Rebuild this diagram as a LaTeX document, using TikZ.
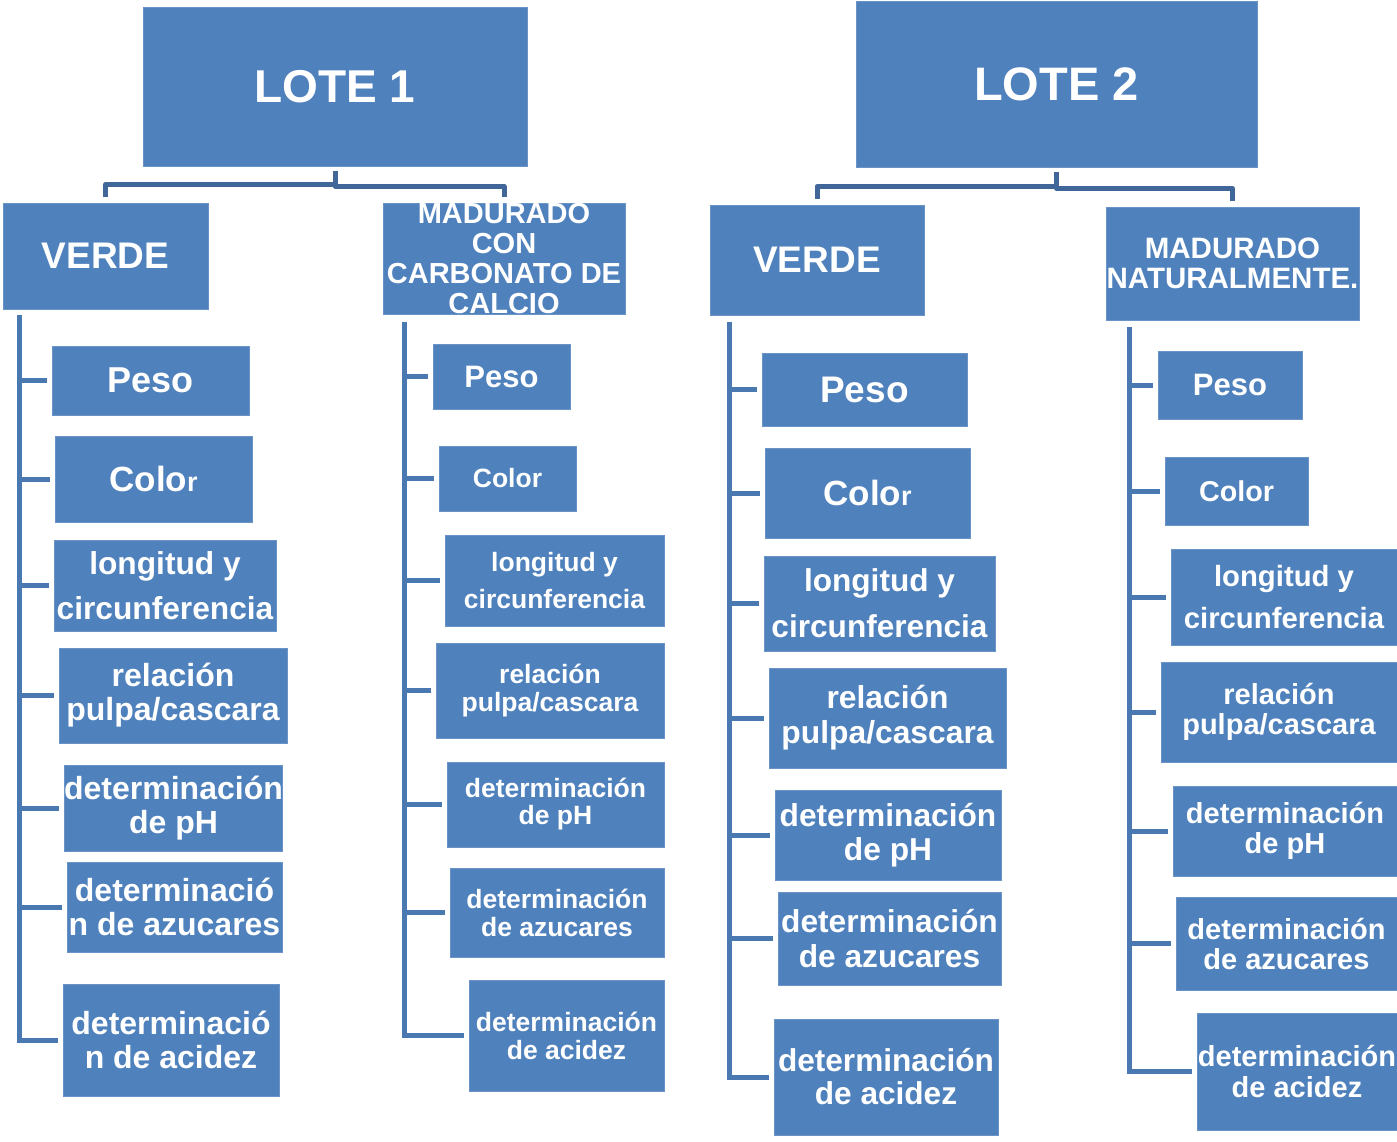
\documentclass[tikz,border=0pt]{standalone}
\usepackage{fontspec}
\setsansfont{Liberation Sans}
\usetikzlibrary{calc}
\definecolor{boxblue}{HTML}{4F81BD}
\definecolor{boxedge}{HTML}{6A94C8}
\definecolor{hubline}{HTML}{41679A}
\definecolor{sideline}{HTML}{4A78B0}
\tikzset{
  box/.style={fill=boxblue, draw=boxedge, line width=0.8pt, inner sep=0pt, text=white, align=center},
  sz/.style 2 args={font=\sffamily\bfseries\fontsize{#1}{#2}\selectfont},
  wh/.style 2 args={minimum width=#1, minimum height=#2},
  hub/.style={draw=hubline, line width=5pt, line join=round},
  side/.style={draw=sideline, line width=5pt, line join=miter}
}
\begin{document}
\begin{tikzpicture}[x=1pt, y=-1pt]
\useasboundingbox (0,0) rectangle (1397,1141);
% ---------- LOTE 1 ----------
\node[box, wh={384}{159}, sz={46}{50}] (lote1) at (335,86.5) {LOTE 1};
\node[box, wh={205}{106}, sz={37}{40}] (v1) at (105.5,256) {VERDE};
\node[box, wh={242}{108}, sz={29}{30}] (m1) at (504,259) {MADURADO\\CON\\CARBONATO DE\\CALCIO};
\node[box, wh={197}{69}, sz={36}{40}] (a1) at (150.5,380.5) {Peso};
\node[box, wh={197}{86}, sz={35}{40}] (a2) at (153.5,479) {Colo{\fontsize{27}{30}\selectfont r}};
\node[box, wh={222}{91}, sz={31.7}{45}] (a3) at (165,585.5) {longitud y\\circunferencia};
\node[box, wh={228}{95}, sz={32}{34}] (a4) at (173,695.5) {relación\\pulpa/cascara};
\node[box, wh={217}{86}, sz={32}{34}] (a5) at (173.5,808) {determinación\\de pH};
\node[box, wh={215}{90}, sz={32}{34}] (a6) at (174.5,907) {determinació\\n de azucares};
\node[box, wh={216}{112}, sz={32}{34}] (a7) at (171,1040) {determinació\\n de acidez};
\node[box, wh={137}{65}, sz={31}{34}] (b1) at (501.5,376.5) {Peso};
\node[box, wh={137}{65}, sz={26.5}{30}] (b2) at (507.5,478.5) {Color};
\node[box, wh={219}{91}, sz={26.5}{37}] (b3) at (554.5,580.5) {longitud y\\circunferencia};
\node[box, wh={228}{95}, sz={26.5}{28}] (b4) at (550,690.5) {relación\\pulpa/cascara};
\node[box, wh={217}{85}, sz={26.5}{27}] (b5) at (555.5,804.5) {determinación\\de pH};
\node[box, wh={214}{89}, sz={26.5}{28}] (b6) at (557,912.5) {determinación\\de azucares};
\node[box, wh={195}{111}, sz={26.5}{28}] (b7) at (566.5,1035.5) {determinación\\de acidez};
% ---------- LOTE 2 ----------
\node[box, wh={401}{166}, sz={47}{50}] (lote2) at (1056.5,84) {LOTE 2};
\node[box, wh={214}{110}, sz={37}{40}] (v2) at (817,260) {VERDE};
\node[box, wh={253}{113}, sz={29.5}{30}] (n2) at (1232.5,263.5) {MADURADO\\NATURALMENTE.};
\node[box, wh={205}{73}, sz={37}{40}] (c1) at (864.5,389.5) {Peso};
\node[box, wh={205}{90}, sz={35}{40}] (c2) at (867.5,493) {Colo{\fontsize{27}{30}\selectfont r}};
\node[box, wh={231}{95}, sz={31.6}{46}] (c3) at (879.5,603.5) {longitud y\\circunferencia};
\node[box, wh={237}{100}, sz={31.8}{35}] (c4) at (887.5,718) {relación\\pulpa/cascara};
\node[box, wh={226}{90}, sz={31.7}{34}] (c5) at (888,835) {determinación\\de pH};
\node[box, wh={223}{93}, sz={31.7}{35}] (c6) at (889.5,938.5) {determinación\\de azucares};
\node[box, wh={224}{116}, sz={31.6}{33}] (c7) at (886,1077) {determinación\\de acidez};
\node[box, wh={144}{68}, sz={31}{34}] (d1) at (1230,385) {Peso};
\node[box, wh={143}{68}, sz={28.7}{32}] (d2) at (1236.5,491) {Color};
\node[box, wh={226}{96}, sz={29.3}{42}] (d3) at (1284,597) {longitud y\\circunferencia};
\node[box, wh={236}{100}, sz={29}{30}] (d4) at (1279,712) {relación\\pulpa/cascara};
\node[box, wh={224}{90}, sz={29}{30}] (d5) at (1285,831) {determinación\\de pH};
\node[box, wh={221}{93}, sz={29}{30}] (d6) at (1286.5,943.5) {determinación\\de azucares};
\node[box, wh={200}{117}, sz={29}{31}] (d7) at (1297,1071.5) {determinación\\de acidez};
% ---------- top connectors ----------
\draw[hub] ($(lote1.south)+(0,5)$) -- ($(lote1.south)+(0,18)$) -| ($(v1.north)+(0,-6)$);
\draw[hub] ($(lote1.south)+(0,5)$) -- ($(lote1.south)+(0,20)$) -| ($(m1.north)+(0,-6)$);
\draw[hub] ($(lote2.south)+(0,5)$) -- ($(lote2.south)+(0,19)$) -| ($(v2.north)+(0,-6)$);
\draw[hub] ($(lote2.south)+(0,5)$) -- ($(lote2.south)+(0,21)$) -| ($(n2.north)+(0,-6)$);
% ---------- side connectors ----------
\coordinate (t1) at ($(v1.south west)+(17,6)$);
\coordinate (t2) at ($(m1.south west)+(22,7)$);
\coordinate (t3) at ($(v2.south west)+(20,7)$);
\coordinate (t4) at ($(n2.south west)+(24,7)$);
\draw[side] (t1) |- ($(a7.west)+(-5,0)$);
\draw[side] (t2) |- ($(b7.west)+(-5,0)$);
\draw[side] (t3) |- ($(c7.west)+(-5,0)$);
\draw[side] (t4) |- ($(d7.west)+(-5,0)$);
\foreach \n in {a1,a2,a3,a4,a5,a6}{\draw[side] (t1 |- \n.west) -- ($(\n.west)+(-5,0)$);}
\foreach \n in {b1,b2,b3,b4,b5,b6}{\draw[side] (t2 |- \n.west) -- ($(\n.west)+(-5,0)$);}
\foreach \n in {c1,c2,c3,c4,c5,c6}{\draw[side] (t3 |- \n.west) -- ($(\n.west)+(-5,0)$);}
\foreach \n in {d1,d2,d3,d4,d5,d6}{\draw[side] (t4 |- \n.west) -- ($(\n.west)+(-5,0)$);}
\end{tikzpicture}
\end{document}
